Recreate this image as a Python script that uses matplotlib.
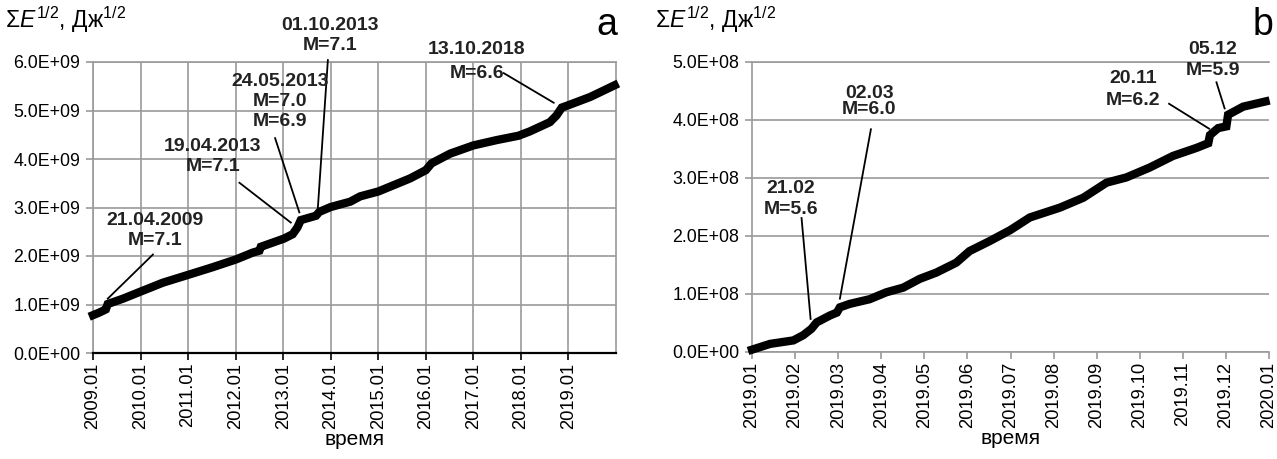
import matplotlib
matplotlib.use("Agg")
import matplotlib.pyplot as plt
from matplotlib.ticker import FuncFormatter

plt.rcParams['font.family'] = ['Liberation Sans', 'DejaVu Sans']
plt.rcParams['mathtext.fontset'] = 'custom'
plt.rcParams['mathtext.rm'] = 'Liberation Sans'
plt.rcParams['mathtext.it'] = 'Liberation Sans:italic'

# panel a: cumulative sqrt(E), 2009-2019, units 1E9
a_year = [2009.0, 2009.1, 2009.21, 2009.27, 2009.31, 2009.63, 2010.01, 2010.47,
          2011.03, 2011.52, 2012.01, 2012.36, 2012.5, 2012.53, 2013.02, 2013.2,
          2013.3, 2013.37, 2013.69, 2013.76, 2014.0, 2014.41, 2014.62, 2015.0,
          2015.67, 2016.0, 2016.12, 2016.51, 2017.0, 2017.49, 2017.95, 2018.19,
          2018.61, 2018.75, 2018.86, 2019.0, 2019.46, 2019.97]
a_val = [0.78, 0.82, 0.87, 0.90, 1.01, 1.12, 1.27, 1.45,
         1.62, 1.77, 1.93, 2.07, 2.11, 2.19, 2.36, 2.45,
         2.59, 2.74, 2.83, 2.91, 3.01, 3.12, 3.23, 3.33,
         3.60, 3.77, 3.91, 4.11, 4.28, 4.39, 4.48, 4.57,
         4.76, 4.90, 5.06, 5.11, 5.28, 5.52]
a_ticks = list(range(2009, 2020))
a_ticklabels = ['%d.01' % y for y in a_ticks]

# panel b: 2019, x in months from 2019.01, units 1E8
b_month = [0.0, 0.42, 0.96, 1.19, 1.38, 1.50, 1.81, 1.97, 2.04, 2.27, 2.73,
           3.12, 3.51, 3.89, 4.28, 4.74, 5.05, 5.51, 5.99, 6.45, 7.15, 7.69,
           8.23, 8.69, 9.23, 9.77, 10.32, 10.59, 10.63, 10.82, 11.01, 11.05,
           11.4, 11.92]
b_val = [0.04, 0.14, 0.20, 0.29, 0.40, 0.51, 0.63, 0.68, 0.77, 0.83, 0.91,
         1.03, 1.11, 1.26, 1.37, 1.54, 1.74, 1.91, 2.10, 2.32, 2.49, 2.66,
         2.92, 3.01, 3.18, 3.38, 3.52, 3.60, 3.74, 3.86, 3.89, 4.09,
         4.23, 4.32]
b_ticks = list(range(0, 13))
b_ticklabels = ['2019.%02d' % (m + 1) for m in range(12)] + ['2020.01']

# annotations: text lines, text position, line start, line end (event point)
a_notes = [
    (['21.04.2009', 'M=7.1'], 2010.3, [2.73, 2.31], (2010.26, 2.03), (2009.31, 1.12)),
    (['19.04.2013', 'M=7.1'], 2011.52, [4.25, 3.84], (2012.08, 3.51), (2013.16, 2.69)),
    (['24.05.2013', 'M=7.0', 'M=6.9'], 2012.93, [5.59, 5.18, 4.77], (2012.83, 4.43), (2013.34, 2.90)),
    (['01.10.2013', 'M=7.1'], 2013.99, [6.76, 6.35], (2013.94, 6.04), (2013.73, 3.0)),
    (['13.10.2018', 'M=6.6'], 2017.07, [6.25, 5.77], (2017.64, 5.77), (2018.69, 5.16)),
]
b_notes = [
    (['21.02', 'M=5.6'], 0.9, [2.82, 2.46], (1.15, 2.31), (1.36, 0.57)),
    (['02.03', 'M=6.0'], 2.72, [4.46, 4.18], (2.76, 3.84), (2.04, 0.92)),
    (['20.11', 'M=6.2'], 8.85, [4.71, 4.34], (9.68, 4.28), (10.61, 3.85)),
    (['05.12', 'M=5.9'], 10.7, [5.22, 4.85], (10.78, 4.65), (10.97, 4.20)),
]

W, H = 1277, 459
fig = plt.figure(figsize=(W / 100, H / 100), dpi=100)
axa = fig.add_axes([93 / W, 1 - 353 / H, 523 / W, 291 / H])
axb = fig.add_axes([752 / W, 1 - 352 / H, 517 / W, 290 / H])

grid_c = '#9a9a9a'
sci = FuncFormatter(lambda v, p: '{:.1E}'.format(v))


def draw(ax, x, vals, scale, notes, ticks, ticklabels, ymax, ystep):
    y = [v * scale for v in vals]
    ax.plot(x, y, color='black', lw=6, solid_joinstyle='miter',
            solid_capstyle='projecting', zorder=3, clip_on=False)
    ax.set_ylim(0, ymax)
    ax.set_yticks([i * ystep for i in range(int(round(ymax / ystep)) + 1)])
    ax.yaxis.set_major_formatter(sci)
    ax.set_xticks(ticks)
    ax.set_xticklabels(ticklabels, rotation=90)
    ax.tick_params(length=5, width=1.2, color=grid_c, pad=4)
    ax.tick_params(axis='y', labelsize=12.8)
    ax.tick_params(axis='x', pad=2, labelsize=13.2)
    ax.set_xlabel('время', fontsize=15, labelpad=1)
    for lines, tx, tys, p0, p1 in notes:
        for s, ty in zip(lines, tys):
            ax.text(tx, ty * scale, s, ha='center', va='center', fontsize=14,
                    fontweight='bold', color='#222222', zorder=5)
        ax.plot([p0[0], p1[0]], [p0[1] * scale, p1[1] * scale], color='black',
                lw=1.3, zorder=4, clip_on=False)


draw(axa, a_year, a_val, 1e9, a_notes, a_ticks, a_ticklabels, 6e9, 1e9)
axa.set_xlim(2009, 2020)
axa.grid(True, color=grid_c, lw=1.2)
axa.set_axisbelow(True)
for s in ['left', 'right', 'top']:
    axa.spines[s].set_color(grid_c)
    axa.spines[s].set_linewidth(1.2)
axa.spines['bottom'].set_color('black')
axa.spines['bottom'].set_linewidth(1.6)
axa.tick_params(axis='x', color='black')

draw(axb, b_month, b_val, 1e8, b_notes, b_ticks, b_ticklabels, 5e8, 1e8)
axb.set_xlim(0, 12)
axb.grid(True, axis='y', color=grid_c, lw=1.2)
axb.set_axisbelow(True)
axb.spines['right'].set_visible(False)
axb.spines['top'].set_color(grid_c)
axb.spines['top'].set_linewidth(1.2)
for s in ['left', 'bottom']:
    axb.spines[s].set_color(grid_c)
    axb.spines[s].set_linewidth(1.2)

ylab = r'$\Sigma E^{1/2}$, Дж$^{1/2}$'
fig.text(5 / W, 1 - 28 / H, ylab, fontsize=16.5, ha='left', va='baseline')
fig.text(655 / W, 1 - 28 / H, ylab, fontsize=16.5, ha='left', va='baseline')
fig.text(617 / W, 1 - 35 / H, 'a', fontsize=27, ha='right', va='baseline')
fig.text(1273 / W, 1 - 35 / H, 'b', fontsize=27, ha='right', va='baseline')

fig.savefig('out.png', dpi=100)
